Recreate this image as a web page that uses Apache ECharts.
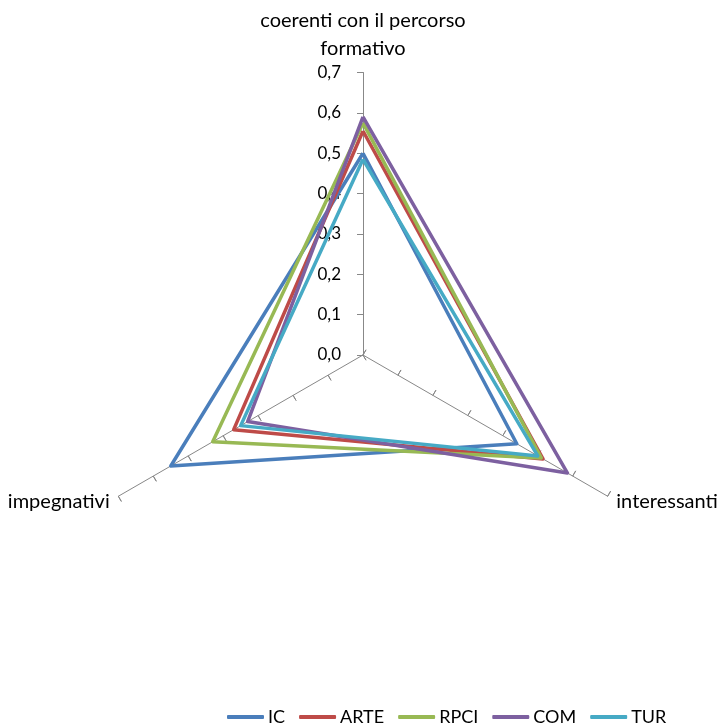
<!DOCTYPE html>
<html>
<head>
<meta charset="utf-8">
<script src="https://cdn.jsdelivr.net/npm/echarts@6/dist/echarts.min.js"></script>
<style>html,body{margin:0;padding:0;background:#fff}#c{width:720px;height:724px}</style>
</head>
<body>
<div id="c"></div>
<script>
var categories = ['coerenti con il percorso\nformativo', 'impegnativi', 'interessanti'];
var tickLabels = ['0,0', '0,1', '0,2', '0,3', '0,4', '0,5', '0,6', '0,7'];
var seriesNames = ['IC', 'ARTE', 'RPCI', 'COM', 'TUR'];
var IC   = [0.50, 0.55, 0.44];
var ARTE = [0.555, 0.37, 0.515];
var RPCI = [0.575, 0.43, 0.51];
var COM  = [0.59, 0.33, 0.585];
var TUR  = [0.485, 0.35, 0.50];
var colors = ['#4A7EBB', '#BE4B48', '#98B954', '#7D60A0', '#46AAC5'];

var FONT = 'Lato';
var values = [IC, ARTE, RPCI, COM, TUR];
var center = [363, 355];
var radius = 282.5;

function indicators(withLabel) {
  return categories.map(function (c, i) {
    var o = { name: c, min: 0, max: 0.7 };
    if (i === 0 && withLabel) {
      o.axisLabel = {
        show: true, color: '#000', fontSize: 17, fontFamily: FONT, margin: 22,
        formatter: function (v) { return tickLabels[Math.round(v * 10)]; }
      };
    }
    return o;
  });
}

var nameStyle = {
  color: '#000', fontSize: 20, fontFamily: FONT, lineHeight: 28,
  formatter: function (v) {
    var parts = v.split('\n');
    if (parts.length === 1) return '{s|' + v + '}';
    return parts.map(function (s) { return '{n|' + s + '}'; }).join('\n');
  },
  rich: {
    n: { color: '#000', fontSize: 20, fontFamily: FONT, lineHeight: 28 },
    s: { color: '#000', fontSize: 20, fontFamily: FONT, lineHeight: 28 }
  }
};

var chart = echarts.init(document.getElementById('c'));
chart.setOption({
  backgroundColor: '#fff',
  color: colors,
  animation: false,
  legend: {
    data: seriesNames,
    left: 222, top: 703,
    icon: 'roundRect',
    itemWidth: 37, itemHeight: 4,
    itemGap: 14,
    textStyle: { color: '#000', fontSize: 18, fontFamily: FONT, padding: [0, 0, 0, -1] }
  },
  radar: [{
    center: center, radius: radius, startAngle: 90, splitNumber: 7,
    shape: 'polygon',
    indicator: indicators(true),
    axisName: nameStyle,
    nameTextStyle: nameStyle,
    nameGap: 10,
    axisLine: { lineStyle: { color: '#888', width: 1 } },
    axisTick: { show: true, length: 6, lineStyle: { color: '#888' } },
    axisLabel: { show: false },
    splitLine: { show: false },
    splitArea: { show: false }
  }, {
    center: center, radius: radius, startAngle: 90, splitNumber: 7,
    shape: 'polygon',
    indicator: indicators(false),
    axisName: { show: false },
    axisLine: { show: false },
    axisTick: { show: true, inside: true, length: 6, lineStyle: { color: '#888' } },
    axisLabel: { show: false },
    splitLine: { show: false },
    splitArea: { show: false }
  }],
  series: seriesNames.map(function (n, i) {
    return {
      type: 'radar', radarIndex: 0, name: n, symbol: 'none',
      lineStyle: { width: 3.5, color: colors[i] },
      itemStyle: { color: colors[i] },
      data: [{ value: values[i], name: n }]
    };
  })
});
</script>
</body>
</html>
